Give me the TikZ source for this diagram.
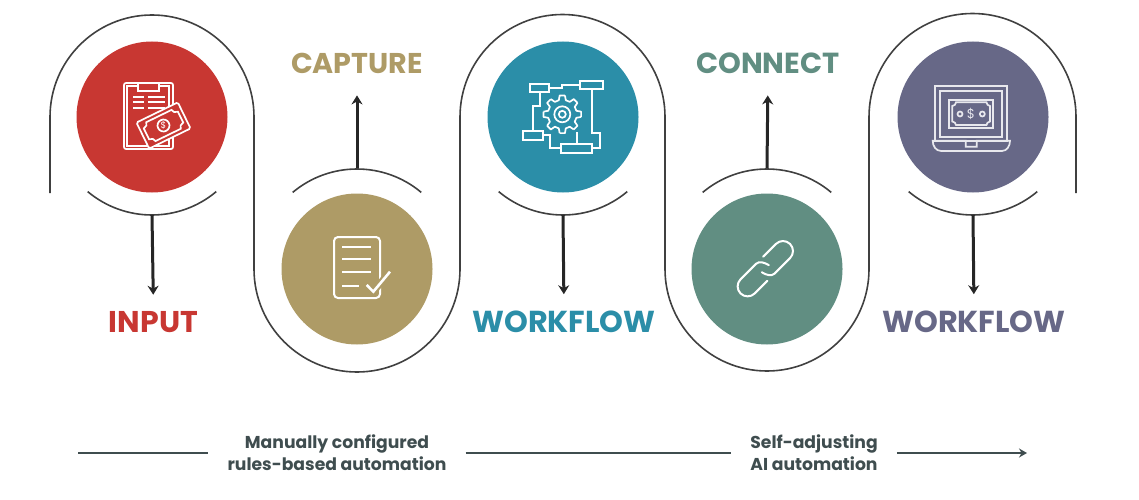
\documentclass[tikz,border=0pt]{standalone}
\usepackage{fontspec}
\setmainfont{Poppins}
\usetikzlibrary{arrows.meta}
\definecolor{inputred}{HTML}{C83732}
\definecolor{capturegold}{HTML}{AE9B66}
\definecolor{workteal}{HTML}{2B8EA8}
\definecolor{connectgreen}{HTML}{618E82}
\definecolor{moneyplum}{HTML}{676887}
\definecolor{slate}{HTML}{3F4D4F}
\tikzset{
  blob/.style={circle,minimum size=151pt,inner sep=0pt},
  ribbon/.style={draw=black!75,line width=1.6pt},
  flowarrow/.style={draw=black!85,line width=3pt,-{Stealth[length=9pt,width=11pt]}},
  iconline/.style={draw=white,line width=1.7pt},
  bigword/.style={inner sep=0pt,font=\bfseries},
  notes/.style={inner xsep=19pt,inner ysep=0pt,align=center,text=slate,font=\fontsize{17.2}{22}\selectfont\bfseries},
  timeline/.style={draw=slate,line width=2.6pt}
}
\begin{document}
\begin{tikzpicture}[x=1pt,y=1pt]
\useasboundingbox (0,0) rectangle (1139,499);
% circles
\node at (152,382) [blob,fill=inputred](input){};
\node at (357,230) [blob,fill=capturegold](capture){};
\node at (563,382) [blob,fill=workteal](workflowA){};
\node at (767,230) [blob,fill=connectgreen](connect){};
\node at (973,382) [blob,fill=moneyplum](workflowB){};
% long winding line
\draw[ribbon] (50,306) -- (50,382) arc[start angle=180,end angle=0,radius=102pt]
  -- (254,230) arc[start angle=180,end angle=360,radius=103pt]
  -- (460,382) arc[start angle=180,end angle=0,radius=102.5pt]
  -- (665,230) arc[start angle=180,end angle=360,radius=102pt]
  -- (869,382) arc[start angle=180,end angle=0,radius=103.5pt]
  -- (1076,306);
% short arcs
\draw[ribbon] (87.7,307.4) arc[start angle=230,end angle=310,radius=100pt];
\draw[ribbon] (292.7,306.6) arc[start angle=130,end angle=50,radius=100pt];
\draw[ribbon] (498.7,307.4) arc[start angle=230,end angle=310,radius=100pt];
\draw[ribbon] (702.7,306.6) arc[start angle=130,end angle=50,radius=100pt];
\draw[ribbon] (908.7,307.4) arc[start angle=230,end angle=310,radius=100pt];
\coordinate (ringA) at (152,284);
\coordinate (ringB) at (357,331);
\coordinate (ringC) at (563,284);
\coordinate (ringD) at (767,331);
\coordinate (ringE) at (973,284);
% words
\node at (153.5,167) [bigword,anchor=base,text=inputred,font=\fontsize{30}{30}\selectfont\bfseries](wordA){INPUT};
\node at (357,425) [bigword,anchor=base,text=capturegold,font=\fontsize{28.6}{30}\selectfont\bfseries](wordB){CAPTURE};
\node at (564,167) [bigword,anchor=base,text=workteal,font=\fontsize{30.3}{30}\selectfont\bfseries](wordC){WORKFLOW};
\node at (768,425) [bigword,anchor=base,text=connectgreen,font=\fontsize{29}{30}\selectfont\bfseries](wordD){CONNECT};
\node at (974,167) [bigword,anchor=base,text=moneyplum,font=\fontsize{30.3}{30}\selectfont\bfseries](wordE){WORKFLOW};
\draw[flowarrow,shorten >=16pt] (ringA) -- (wordA.north);
\draw[flowarrow,shorten >=21pt] (ringB) -- (wordB.south);
\draw[flowarrow,shorten >=16pt] (ringC) -- (wordC.north);
\draw[flowarrow,shorten >=21pt] (ringD) -- (wordD.south);
\draw[flowarrow,shorten >=16pt] (ringE) -- (wordE.north);
% bottom line
\coordinate (lineStart) at (78,46);
\coordinate (lineEnd) at (1027,46);
\node at (337,46) [notes](manual){Manually configured\\rules-based automation};
\node at (814,46) [notes](selfadj){Self-adjusting\\AI automation};
\draw[timeline] (lineStart) -- (manual.west);
\draw[timeline] (manual.east) -- (selfadj.west);
\draw[timeline,-{Stealth[length=8pt,width=9pt]}] (selfadj.east) -- (lineEnd);
% clipboard and banknote
\begin{scope}[shift={(input.center)}]
\draw[iconline,rounded corners=2pt] (-28,-32) rectangle (21,34);
\draw[iconline] (-14,31) -- (-25,31) -- (-25,-29) -- (17,-29) -- (17,31) -- (7,31);
\draw[iconline] (-14,34) -- (-14,26) -- (7,26) -- (7,34);
\foreach \y in {20,15,9}{
  \draw[iconline] (-19,\y) -- (-8,\y);
  \draw[iconline] (-4,\y) -- (13,\y);
}
\begin{scope}[shift={(11.5,-8.5)},rotate=26]
\draw[iconline,fill=inputred,rounded corners=1.5pt] (-23,-14.5) rectangle (23,14.5);
\draw[iconline] (-14,10.5) -- (14,10.5) .. controls (14,8) and (16,6.5) .. (19,6)
  -- (19,-6) .. controls (16,-6.5) and (14,-8) .. (14,-10.5)
  -- (-14,-10.5) .. controls (-14,-8) and (-16,-6.5) .. (-19,-6)
  -- (-19,6) .. controls (-16,6.5) and (-14,8) .. (-14,10.5) -- cycle;
\draw[iconline] (0,0) circle (6pt);
\node at (0,0) [text=white,inner sep=0pt,font=\fontsize{9}{9}\selectfont](dollarA){\$};
\end{scope}
\end{scope}
% document with tick
\begin{scope}[shift={(capture.center)}]
\draw[iconline,line width=2pt,rounded corners=4pt] (-23,-29) rectangle (23,32);
\foreach \y in {22,10,-3}{
  \draw[iconline] (-15,\y) -- (14,\y);
}
\draw[iconline] (-15,-17) -- (2,-17);
\draw[draw=capturegold,line width=7pt] (9.7,-16) -- (16.3,-22.7) -- (33,-2.7);
\draw[iconline,line width=2.6pt] (9.7,-16) -- (16.3,-22.7) -- (33,-2.7);
\end{scope}
% gear and boxes
\begin{scope}[shift={(workflowA.center)}]
\draw[iconline] (-33,24.7) rectangle (-13.7,33);
\draw[iconline] (17,27.7) rectangle (39.7,36.3);
\draw[iconline] (-40.3,-23) rectangle (-19.7,-14);
\draw[iconline] (-2,-35.7) rectangle (29.3,-27.3);
\draw[iconline] (-13.7,28.7) -- (-1.3,28.7) -- (-1.3,32) -- (17,32);
\draw[iconline] (-23,24.7) -- (-23,11) -- (-29.7,11) -- (-29.7,-14);
\draw[iconline] (28.7,27.7) -- (28.7,-15.7) -- (37,-15.7) -- (37,-31.3) -- (29.3,-31.3);
\draw[iconline] (-19.7,-18) -- (-13,-18) -- (-13,-31.3) -- (-2,-31.3);
\draw[iconline] (13.7,-27.3) -- (13.7,-14.7);
\begin{scope}[shift={(-0.7,2.7)}]
\foreach \a in {0,45,...,315}{
  \draw[iconline,line join=round] ({\a-8}:19) -- ({\a+8}:19) -- ({\a+14}:14.5) -- ({\a+31}:14.5) -- ({\a+37}:19);
}
\draw[iconline] (0,0) circle (8pt);
\draw[iconline] (0,0) circle (3.5pt);
\end{scope}
\end{scope}
% chain links
\begin{scope}[shift={(connect.center)},xshift=-1.7pt,yshift=0.3pt]
\foreach \r in {45,225}{
  \draw[iconline,line width=2pt,line cap=round,rotate=\r] (7,10) -- (25,10) arc[start angle=90,end angle=-90,radius=10pt]
    -- (3,-10) .. controls (-1,-10) and (-4,-5) .. (-5,0);
}
\end{scope}
% laptop with banknote
\begin{scope}[shift={(workflowB.center)}]
\draw[iconline,draw=white!85!moneyplum] (-37.7,-23.7) rectangle (33.7,31.3);
\draw[iconline,draw=white!85!moneyplum] (-32.7,-20.3) rectangle (29,26.3);
\draw[iconline,draw=white!85!moneyplum] (-24,-10.7) rectangle (20.3,17);
\draw[iconline,draw=white!85!moneyplum] (-17,14.7) -- (13.5,14.7) .. controls (13.5,12.5) and (15,11.5) .. (17,11)
  -- (17,-4.5) .. controls (15,-5) and (13.5,-6) .. (13.5,-8)
  -- (-17,-8) .. controls (-17,-6) and (-18.7,-5) .. (-20.7,-4.5)
  -- (-20.7,11) .. controls (-18.7,11.5) and (-17,12.5) .. (-17,14.7) -- cycle;
\draw[iconline,draw=white!85!moneyplum] (-13,3) circle (2.5pt);
\draw[iconline,draw=white!85!moneyplum] (9.3,3) circle (2.5pt);
\node at (-2,3) [text=white!85!moneyplum,inner sep=0pt,font=\fontsize{13}{13}\selectfont](dollarB){\$};
\draw[iconline,draw=white!85!moneyplum] (-40.3,-23.7) -- (-7.3,-23.7) -- (-7.3,-29.7) -- (3.7,-29.7) -- (3.7,-23.7) -- (37,-23.7)
  .. controls (37,-29) and (34,-34) .. (29,-34) -- (-32,-34) .. controls (-37,-34) and (-40.3,-29) .. (-40.3,-23.7) -- cycle;
\end{scope}
\end{tikzpicture}
\end{document}
